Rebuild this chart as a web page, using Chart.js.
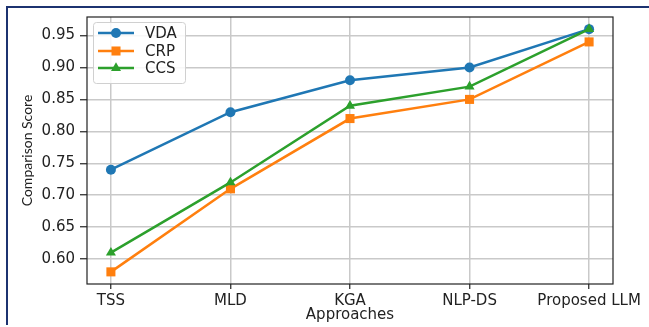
<!DOCTYPE html>
<html>
<head>
<meta charset="utf-8">
<script src="https://cdn.jsdelivr.net/npm/chart.js@4"></script>
<style>
  html, body { margin: 0; padding: 0; background: #fff; }
  #wrap { position: relative; width: 649px; height: 327px; overflow: hidden; }
  #frame { position: absolute; left: 6px; top: 6px; width: 700px; height: 319px;
           border-top: 2px solid #1c3270; border-left: 2px solid #1c3270; box-sizing: border-box; }
  canvas { position: absolute; left: 0; top: 0; }
</style>
</head>
<body>
<div id="wrap">
  <canvas id="chart" width="649" height="327"></canvas>
  <div id="frame"></div>
</div>
<script>
// ── Data ───────────────────────────────────────────────────────────────────
const approaches = ['TSS', 'MLD', 'KGA', 'NLP-DS', 'Proposed LLM'];
const vdaScores  = [0.74, 0.83, 0.88, 0.90, 0.96];
const crpScores  = [0.58, 0.71, 0.82, 0.85, 0.94];
const ccsScores  = [0.61, 0.72, 0.84, 0.87, 0.96];
const yTicks     = [0.60, 0.65, 0.70, 0.75, 0.80, 0.85, 0.90, 0.95];

// ── Styling ────────────────────────────────────────────────────────────────
const FONT = { family: "'DejaVu Sans', sans-serif", size: 15 };
const TEXT = '#222';
const GRID = '#c9c9c9';

function series(label, values, color, style, radius, order) {
  return {
    label,
    data: values.map((v, i) => ({ x: i, y: v })),
    borderColor: color,
    backgroundColor: color,
    borderWidth: 2.5,
    pointStyle: style,
    pointRadius: radius,
    pointHoverRadius: radius,
    pointBorderWidth: 0,
    order,
  };
}

// frame around the plot area + matplotlib-like legend inside
const framePlugin = {
  id: 'frame',
  afterDatasetsDraw(chart) {
    const { ctx, chartArea: a } = chart;
    ctx.save();
    ctx.strokeStyle = '#222';
    ctx.lineWidth = 1.2;
    ctx.strokeRect(a.left, a.top, a.right - a.left, a.bottom - a.top);

    // legend box
    const bx = 93, by = 22, bw = 92, bh = 61;
    ctx.fillStyle = 'rgba(255,255,255,0.85)';
    ctx.strokeStyle = '#d0d0d0';
    ctx.lineWidth = 1;
    ctx.beginPath();
    ctx.roundRect(bx + 0.5, by + 0.5, bw, bh, 3);
    ctx.fill();
    ctx.stroke();

    const rows = [33, 51, 68];
    chart.data.datasets.forEach((ds, i) => {
      const y = rows[i];
      ctx.strokeStyle = ds.borderColor;
      ctx.lineWidth = ds.borderWidth;
      ctx.beginPath();
      ctx.moveTo(98, y);
      ctx.lineTo(134, y);
      ctx.stroke();
      ctx.fillStyle = ds.backgroundColor;
      Chart.helpers.drawPoint(ctx, { pointStyle: ds.pointStyle, radius: ds.pointRadius, borderWidth: 0 }, 116, y);
      ctx.fillStyle = TEXT;
      ctx.font = `${FONT.size}px ${FONT.family}`;
      ctx.textBaseline = 'middle';
      ctx.textAlign = 'left';
      ctx.fillText(ds.label, 145, y + 1);
    });
    ctx.restore();
  },
};

new Chart(document.getElementById('chart'), {
  type: 'line',
  data: {
    datasets: [
      series('VDA', vdaScores, '#1f77b4', 'circle', 5, 2),
      series('CRP', crpScores, '#ff7f0e', 'rect', 6.4, 1),
      series('CCS', ccsScores, '#2ca02c', 'triangle', 5.8, 0),
    ],
  },
  options: {
    responsive: false,
    animation: false,
    layout: { padding: { left: 8, top: 17, right: 36, bottom: 0 } },
    plugins: { legend: { display: false }, tooltip: { enabled: false } },
    scales: {
      x: {
        type: 'linear',
        min: -0.2,
        max: 4.2,
        afterBuildTicks: (s) => { s.ticks = approaches.map((_, i) => ({ value: i })); },
        afterFit: (s) => { s.height = 43; },
        ticks: { color: TEXT, font: FONT, padding: 3, maxRotation: 0, autoSkip: false,
                 callback: (v) => approaches[v] },
        grid: { color: GRID, lineWidth: 1.5, tickLength: 5, tickColor: '#222', tickWidth: 1.2 },
        border: { display: false },
        title: { display: true, text: 'Approaches', color: TEXT, font: FONT,
                 padding: { top: 0, bottom: 3 } },
      },
      y: {
        min: 0.561,
        max: 0.979,
        afterBuildTicks: (s) => { s.ticks = yTicks.map((v) => ({ value: v })); },
        afterFit: (s) => { s.width = 79; },
        ticks: { color: TEXT, font: FONT, padding: 5, callback: (v) => v.toFixed(2) },
        grid: { color: GRID, lineWidth: 1.5, tickLength: 7, tickColor: '#222', tickWidth: 1.2 },
        border: { display: false },
        title: { display: true, text: 'Comparison Score', color: TEXT,
                 font: { family: "Lato, 'Open Sans', sans-serif", size: 14 },
                 padding: { top: 11, bottom: 0 } },
      },
    },
  },
  plugins: [framePlugin],
});
</script>
</body>
</html>
